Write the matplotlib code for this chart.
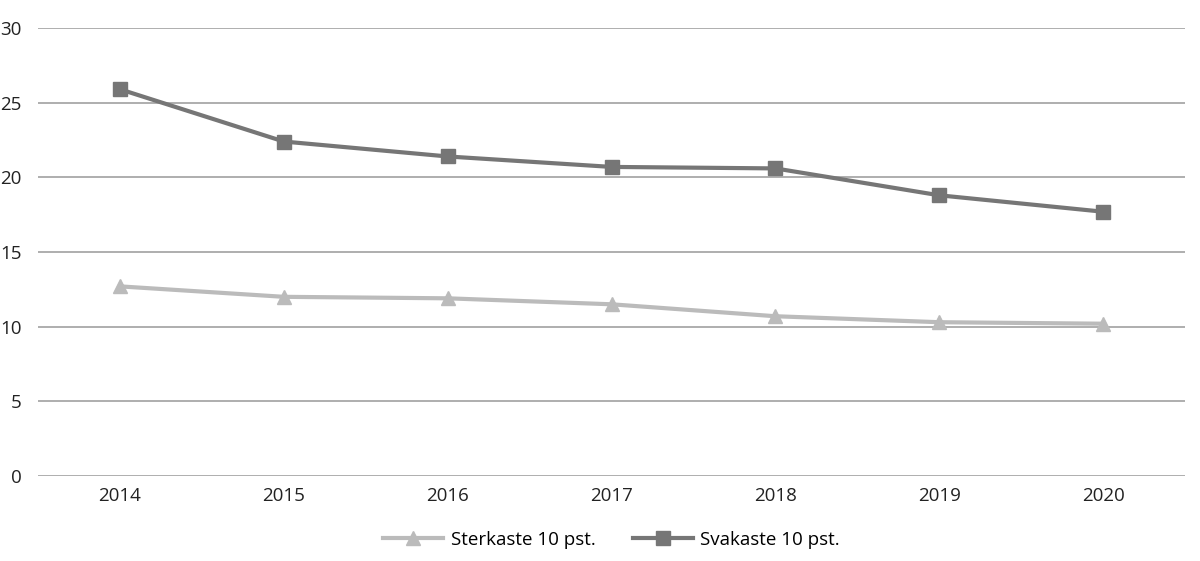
import matplotlib
matplotlib.use('Agg')
import matplotlib.pyplot as plt
import numpy as np

plt.rcParams.update({'font.family': ['Open Sans', 'DejaVu Sans'], 'font.size': 12})

years = ['2014', '2015', '2016', '2017', '2018', '2019', '2020']
sterkaste = [12.7, 12.0, 11.9, 11.5, 10.7, 10.3, 10.2]
svakaste = [25.9, 22.4, 21.4, 20.7, 20.6, 18.8, 17.7]
yticks = [0, 5, 10, 15, 20, 25, 30]

fig = plt.figure(figsize=(12, 5.61), dpi=100)
ax = fig.add_axes([0.0317, 0.1515, 0.9558, 0.7985])
x = np.arange(len(years))

for t in yticks:
    ax.axhline(t, color='#999999', lw=1.1, zorder=1)

ax.plot(x, sterkaste, '-^', color='#bbbbbb', lw=3, ms=10, label='Sterkaste 10 pst.', zorder=3)
ax.plot(x, svakaste, '-s', color='#767676', lw=3, ms=10, label='Svakaste 10 pst.', zorder=3)

ax.set_xlim(-0.5, len(years) - 0.5)
ax.set_ylim(0, 30)
ax.set_xticks(x)
ax.set_xticklabels(years)
ax.set_yticks(yticks)
for s in ax.spines.values():
    s.set_visible(False)
ax.tick_params(length=0, labelsize=13.5, colors='#222222')
ax.tick_params(axis='y', pad=12)
ax.tick_params(axis='x', pad=8)

ax.legend(loc='upper center', bbox_to_anchor=(0.5, -0.085), ncol=2, frameon=False,
          fontsize=13.5, handlelength=3.2, handletextpad=0.4, columnspacing=2.0)

fig.savefig('out.png', dpi=100)
